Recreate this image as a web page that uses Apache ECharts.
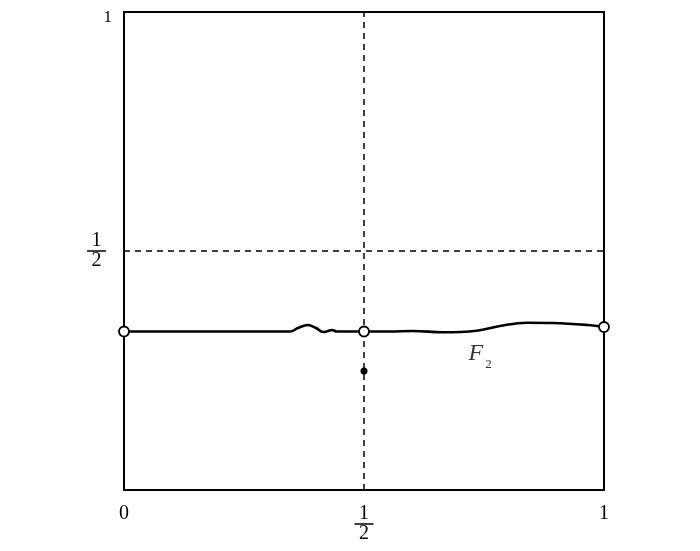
<!DOCTYPE html>
<html>
<head>
<meta charset="utf-8">
<script src="https://cdn.jsdelivr.net/npm/echarts@6/dist/echarts.min.js"></script>
<style>html,body{margin:0;padding:0;background:#fff;}#c{width:700px;height:551px;}</style>
</head>
<body>
<div id="c"></div>
<script>
// Curve F2 (x, y)
var curveX = [0, 0.346, 0.3625, 0.383, 0.40, 0.415, 0.425, 0.433, 0.444, 0.5, 0.554, 0.602, 0.665, 0.735, 0.783, 0.84, 0.894, 0.965, 1];
var curveY = [0.3316, 0.3316, 0.3389, 0.3452, 0.3389, 0.3305, 0.3326, 0.3347, 0.3316, 0.3316, 0.3316, 0.3326, 0.3299, 0.3333, 0.3431, 0.35, 0.3494, 0.3452, 0.341];
// open circles at endpoints / midpoint
var openX = [0, 0.5, 1];
var openY = [0.3316, 0.3316, 0.341];
// filled dot
var dotX = [0.5];
var dotY = [0.249];
// dashed reference lines
var refVX = 0.5;
var refHY = 0.5;
// tick values
var xTicks = [0, 0.5, 1];
var yTicks = [0.5, 1];
// curve label
var curveLabel = {name: 'F', sub: '2', x: 0.742, y: 0.285};

var serif = 'Liberation Serif';
var chart = echarts.init(document.getElementById('c'));

function zip(a, b) { return a.map(function (v, i) { return [v, b[i]]; }); }

var fracRich = {
  n: {fontSize: 20, fontFamily: serif, color: '#000', lineHeight: 18, width: 19, align: 'center'},
  l: {width: 19, height: 1.5, lineHeight: 2, backgroundColor: '#000', fontSize: 1},
  d: {fontSize: 20, fontFamily: serif, color: '#000', lineHeight: 18, width: 19, align: 'center'},
  p: {fontSize: 20, fontFamily: serif, color: '#000', lineHeight: 18},
  t: {fontSize: 17, fontFamily: serif, color: '#000', padding: [12, 0, 0, 0]},
  sp: {width: 6, fontSize: 1}
};

function fracFmt(v) {
  if (Math.abs(v - 0.5) < 1e-9) return '{n|1}\n{l| }\n{d|2}';
  return '{p|' + v + '}';
}

chart.setOption({
  animation: false,
  backgroundColor: '#fff',
  grid: {left: 124, right: 96, top: 12, bottom: 61, show: true, borderColor: '#000', borderWidth: 2, backgroundColor: 'transparent'},
  xAxis: {
    type: 'value', min: 0, max: 1, interval: 0.5,
    axisLine: {show: false}, axisTick: {show: false}, splitLine: {show: false},
    axisLabel: {margin: 15, verticalAlign: 'top', formatter: fracFmt, rich: fracRich, showMinLabel: true, showMaxLabel: true}
  },
  yAxis: {
    type: 'value', min: 0, max: 1, interval: 0.5,
    axisLine: {show: false}, axisTick: {show: false}, splitLine: {show: false},
    axisLabel: {margin: 12, formatter: function (v) {
      if (v === 0) return '';
      if (Math.abs(v - 0.5) < 1e-9) return '{n|1}{sp| }\n{l| }{sp| }\n{d|2}{sp| }';
      return '{t|' + v + '}';
    }, rich: fracRich}
  },
  series: [
    {type: 'line', data: [[refVX, 0], [refVX, 1]], symbol: 'none', silent: true,
     lineStyle: {color: '#000', width: 1.5, type: [6, 5]}, z: 1},
    {type: 'line', data: [[0, refHY], [1, refHY]], symbol: 'none', silent: true,
     lineStyle: {color: '#000', width: 1.5, type: [6, 5]}, z: 1},
    {type: 'line', data: zip(curveX, curveY), symbol: 'none', smooth: 0.4,
     lineStyle: {color: '#000', width: 2.6}, z: 3},
    {type: 'scatter', data: zip(dotX, dotY), symbol: 'circle', symbolSize: 7,
     itemStyle: {color: '#000', opacity: 1}, z: 4},
    {type: 'scatter', data: zip(openX, openY), symbol: 'circle', symbolSize: 10,
     itemStyle: {color: '#fff', borderColor: '#000', borderWidth: 1.8, opacity: 1}, z: 5},
    {type: 'scatter', data: [[curveLabel.x, curveLabel.y]], symbolSize: 0, silent: true, z: 6,
     label: {show: true, position: 'inside',
       formatter: '{f|' + curveLabel.name + '}{s|' + curveLabel.sub + '}',
       rich: {
         f: {fontFamily: serif, fontStyle: 'italic', fontSize: 24, color: '#000', verticalAlign: 'bottom'},
         s: {fontFamily: serif, fontSize: 13, color: '#000', verticalAlign: 'bottom', padding: [0, 0, -5, 2]}
       }}}
  ]
});
</script>
</body>
</html>
